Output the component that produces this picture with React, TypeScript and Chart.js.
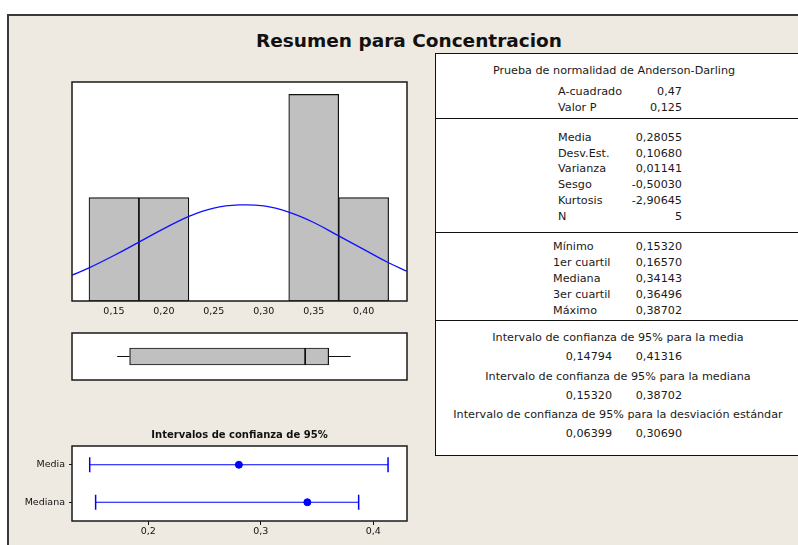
import React, { useEffect, useRef } from 'react';
import { Chart, registerables } from 'chart.js';

Chart.register(...registerables);

const FONT = '"DejaVu Sans", Verdana, sans-serif';

// ---- Histogram data ----
const binCenters = [0.15, 0.2, 0.35, 0.4];
const binCounts = [1, 1, 2, 1];
const curveX = [0.108, 0.125, 0.15, 0.175, 0.2, 0.225, 0.25, 0.275, 0.3, 0.325, 0.35, 0.375, 0.4, 0.425, 0.443];
const curveY = [0.25, 0.32, 0.44, 0.57, 0.70, 0.82, 0.90, 0.93, 0.92, 0.86, 0.76, 0.63, 0.50, 0.37, 0.29];
const histTickValues = [0.15, 0.2, 0.25, 0.3, 0.35, 0.4];
const histTickLabels = ['0,15', '0,20', '0,25', '0,30', '0,35', '0,40'];

// ---- Boxplot data: min, Q1, median, Q3, max ----
const boxValues = [0.1532, 0.1657, 0.34143, 0.36496, 0.38702];

// ---- Confidence intervals ----
const ciCategories = ['Media', 'Mediana'];
const ciLower = [0.14794, 0.1532];
const ciUpper = [0.41316, 0.38702];
const ciEstimate = [0.28055, 0.34143];
const ciTickValues = [0.2, 0.3, 0.4];
const ciTickLabels = ['0,2', '0,3', '0,4'];

// ---- Table texts ----
const adTitle = 'Prueba de normalidad de Anderson-Darling';
const adLabels = ['A-cuadrado', 'Valor P'];
const adValues = ['0,47', '0,125'];
const momentLabels = ['Media', 'Desv.Est.', 'Varianza', 'Sesgo', 'Kurtosis', 'N'];
const momentValues = ['0,28055', '0,10680', '0,01141', '-0,50030', '-2,90645', '5'];
const quantLabels = ['Mínimo', '1er cuartil', 'Mediana', '3er cuartil', 'Máximo'];
const quantValues = ['0,15320', '0,16570', '0,34143', '0,36496', '0,38702'];
const intervalTitles = [
  'Intervalo de confianza de 95% para la media',
  'Intervalo de confianza de 95% para la mediana',
  'Intervalo de confianza de 95% para la desviación estándar',
];
const intervalLower = ['0,14794', '0,15320', '0,06399'];
const intervalUpper = ['0,41316', '0,38702', '0,30690'];

const mainTitle = 'Resumen para Concentracion';
const ciTitle = 'Intervalos de confianza de 95%';

const panelPlugin = {
  id: 'panelFrame',
  beforeDraw(chart: any) {
    const a = chart.chartArea;
    const ctx = chart.ctx;
    ctx.save();
    ctx.fillStyle = '#ffffff';
    ctx.fillRect(a.left, a.top, a.right - a.left, a.bottom - a.top);
    ctx.restore();
  },
  afterDraw(chart: any) {
    const a = chart.chartArea;
    const ctx = chart.ctx;
    ctx.save();
    ctx.strokeStyle = '#1a1a1a';
    ctx.lineWidth = 1.5;
    ctx.strokeRect(a.left, a.top, a.right - a.left, a.bottom - a.top);
    ctx.restore();
  },
};

const HIST_MIN = 0.108;
const HIST_MAX = 0.4434;

export default function App() {
  const histRef = useRef<HTMLCanvasElement>(null);
  const boxRef = useRef<HTMLCanvasElement>(null);
  const ciRef = useRef<HTMLCanvasElement>(null);

  useEffect(() => {
    Chart.defaults.font.family = FONT;
    const charts: Chart[] = [];

    // Histogram
    charts.push(
      new Chart(histRef.current as HTMLCanvasElement, {
        type: 'bar',
        data: {
          datasets: [
            {
              type: 'line',
              data: curveX.map((x, i) => ({ x, y: curveY[i] })),
              borderColor: '#1010ff',
              borderWidth: 1.3,
              pointRadius: 0,
              tension: 0.4,
              order: 0,
            } as any,
            {
              type: 'bar',
              data: binCenters.map((x, i) => ({ x, y: binCounts[i] })),
              backgroundColor: '#c0c0c0',
              borderColor: '#111111',
              borderWidth: 1.2,
              borderSkipped: false,
              barPercentage: 1,
              categoryPercentage: 1,
              order: 1,
            } as any,
          ],
        },
        options: {
          animation: false,
          responsive: false,
          layout: { padding: { left: 10, right: 10, top: 10, bottom: 0 } },
          plugins: { legend: { display: false }, tooltip: { enabled: false }, title: { display: false } },
          scales: {
            x: {
              type: 'linear',
              min: HIST_MIN,
              max: HIST_MAX,
              offset: false,
              grid: { display: false, drawTicks: false },
              border: { display: false },
              afterBuildTicks: (s: any) => {
                s.ticks = histTickValues.map((v) => ({ value: v }));
              },
              afterFit: (s: any) => {
                s.height = 31;
              },
              ticks: {
                padding: 5,
                color: '#111',
                font: { size: 9.5, family: FONT },
                maxRotation: 0,
                autoSkip: false,
                callback: (v: any) => histTickLabels[histTickValues.findIndex((t) => Math.abs(t - v) < 1e-9)] ?? '',
              },
            },
            y: { type: 'linear', min: 0, max: 2.12, display: false },
          },
        },
        plugins: [panelPlugin],
      } as any)
    );

    // Boxplot
    charts.push(
      new Chart(boxRef.current as HTMLCanvasElement, {
        type: 'bar',
        data: {
          labels: ['box'],
          datasets: [
            {
              type: 'bar',
              data: [[boxValues[1], boxValues[2]]],
              backgroundColor: '#c0c0c0',
              borderColor: '#111',
              borderWidth: 1.2,
              borderSkipped: false,
              barThickness: 17,
              grouped: false,
            } as any,
            {
              type: 'bar',
              data: [[boxValues[2], boxValues[3]]],
              backgroundColor: '#c0c0c0',
              borderColor: '#111',
              borderWidth: 1.2,
              borderSkipped: false,
              barThickness: 17,
              grouped: false,
            } as any,
            {
              type: 'line',
              data: [
                { x: boxValues[0], y: 'box' },
                { x: boxValues[1], y: 'box' },
              ],
              borderColor: '#111',
              borderWidth: 1.2,
              pointRadius: 0,
            } as any,
            {
              type: 'line',
              data: [
                { x: boxValues[3], y: 'box' },
                { x: boxValues[4], y: 'box' },
              ],
              borderColor: '#111',
              borderWidth: 1.2,
              pointRadius: 0,
            } as any,
          ],
        },
        options: {
          animation: false,
          responsive: false,
          indexAxis: 'y',
          layout: { padding: 10 },
          plugins: { legend: { display: false }, tooltip: { enabled: false } },
          scales: {
            x: { type: 'linear', min: HIST_MIN, max: HIST_MAX, display: false, offset: false },
            y: { type: 'category', display: false, offset: true },
          },
        },
        plugins: [panelPlugin],
      } as any)
    );

    // Confidence intervals
    const ciDatasets: any[] = [];
    ciCategories.forEach((c, i) => {
      ciDatasets.push({
        type: 'line',
        data: [{ x: ciEstimate[i], y: c }],
        showLine: false,
        pointStyle: 'circle',
        pointRadius: 3.5,
        pointBackgroundColor: '#0000ff',
        pointBorderColor: '#0000ff',
        pointBorderWidth: 1,
        order: 0,
      });
    });
    ciCategories.forEach((c, i) => {
      ciDatasets.push({
        type: 'line',
        data: [
          { x: ciLower[i], y: c },
          { x: ciUpper[i], y: c },
        ],
        borderColor: '#0000ff',
        borderWidth: 1.2,
        pointStyle: 'line',
        pointRadius: 7.5,
        pointRotation: 90,
        pointBorderColor: '#0000ff',
        pointBorderWidth: 1.5,
        pointBackgroundColor: '#0000ff',
        order: 1,
      });
    });

    charts.push(
      new Chart(ciRef.current as HTMLCanvasElement, {
        type: 'line',
        data: { datasets: ciDatasets },
        options: {
          animation: false,
          responsive: false,
          layout: { padding: { left: 0, right: 10, top: 0, bottom: 0 } },
          plugins: {
            legend: { display: false },
            tooltip: { enabled: false },
            title: {
              display: true,
              text: ciTitle,
              fullSize: false,
              color: '#111',
              font: { size: 10, weight: 'bold', family: FONT },
              padding: { top: 9, bottom: 5 },
            },
          },
          scales: {
            x: {
              type: 'linear',
              min: 0.1322,
              max: 0.43,
              grid: { display: true, drawOnChartArea: false, drawTicks: true, tickLength: 4, color: '#111' },
              border: { display: false },
              afterBuildTicks: (s: any) => {
                s.ticks = ciTickValues.map((v) => ({ value: v }));
              },
              afterFit: (s: any) => {
                s.height = 24;
              },
              ticks: {
                padding: 1,
                color: '#111',
                font: { size: 9.5, family: FONT },
                maxRotation: 0,
                autoSkip: false,
                callback: (v: any) => ciTickLabels[ciTickValues.findIndex((t) => Math.abs(t - v) < 1e-9)] ?? '',
              },
            },
            y: {
              type: 'category',
              labels: ciCategories,
              offset: true,
              grid: { display: true, drawOnChartArea: false, drawTicks: true, tickLength: 3, color: '#111' },
              border: { display: false },
              afterFit: (s: any) => {
                s.width = 60;
              },
              ticks: {
                padding: 4,
                color: '#111',
                font: { size: 9.5, family: FONT },
              },
            },
          },
        },
        plugins: [panelPlugin],
      } as any)
    );

    return () => {
      charts.forEach((c) => c.destroy());
    };
  }, []);

  const tableFont = { fontFamily: FONT, fontSize: '11.2px', color: '#1a1a1a', whiteSpace: 'nowrap' as const, lineHeight: '14px' };

  const txt = (key: string, text: string, x: number, y: number, align: 'left' | 'right' | 'center') => {
    const tx = align === 'left' ? '0' : align === 'right' ? '-100%' : '-50%';
    return (
      <div
        key={key}
        style={{ position: 'absolute', left: x, top: y, transform: `translate(${tx}, -50%)`, ...tableFont }}
      >
        {text}
      </div>
    );
  };

  const items: React.ReactNode[] = [];
  items.push(txt('adt', adTitle, 614, 71, 'center'));
  adLabels.forEach((l, i) => {
    const y = 92 + i * 16.3;
    items.push(txt('adl' + i, l, 558, y, 'left'));
    items.push(txt('adv' + i, adValues[i], 682, y, 'right'));
  });
  momentLabels.forEach((l, i) => {
    const y = 137.7 + i * 15.8;
    items.push(txt('ml' + i, l, 558, y, 'left'));
    items.push(txt('mv' + i, momentValues[i], 682, y, 'right'));
  });
  quantLabels.forEach((l, i) => {
    const y = 246.5 + i * 16;
    items.push(txt('ql' + i, l, 553, y, 'left'));
    items.push(txt('qv' + i, quantValues[i], 682, y, 'right'));
  });
  intervalTitles.forEach((t, i) => {
    const y = 338.3 + i * 38.2;
    items.push(txt('it' + i, t, 618, y, 'center'));
    items.push(txt('il' + i, intervalLower[i], 612, y + 19, 'right'));
    items.push(txt('iu' + i, intervalUpper[i], 682, y + 19, 'right'));
  });

  const hline = (key: string, y: number) => (
    <div key={key} style={{ position: 'absolute', left: 436, top: y, width: 400, height: 0, borderTop: '1.5px solid #111' }} />
  );

  return (
    <div
      style={{
        position: 'fixed',
        left: 0,
        top: 0,
        width: 798,
        height: 545,
        overflow: 'hidden',
        background: '#ffffff',
      }}
    >
      <div
        style={{
          position: 'absolute',
          left: 7,
          top: 14,
          width: 900,
          height: 700,
          background: '#eeeae1',
          borderLeft: '2px solid #3a3a3a',
          borderTop: '2px solid #3a3a3a',
        }}
      />
      <div
        style={{
          position: 'absolute',
          left: 409,
          top: 40,
          transform: 'translate(-50%, -50%)',
          fontFamily: FONT,
          fontWeight: 'bold',
          fontSize: '18.5px',
          color: '#111',
          whiteSpace: 'nowrap',
        }}
      >
        {mainTitle}
      </div>
      <div
        style={{
          position: 'absolute',
          left: 435,
          top: 53,
          width: 400,
          height: 401,
          background: '#ffffff',
          border: '1.5px solid #111',
        }}
      />
      {hline('h1', 117.5)}
      {hline('h2', 232)}
      {hline('h3', 319.5)}
      {items}
      <canvas
        ref={histRef}
        width={355}
        height={260}
        style={{ position: 'absolute', left: 62, top: 72, width: 355, height: 260 }}
      />
      <canvas
        ref={boxRef}
        width={355}
        height={67}
        style={{ position: 'absolute', left: 62, top: 323, width: 355, height: 67 }}
      />
      <canvas
        ref={ciRef}
        width={405}
        height={125}
        style={{ position: 'absolute', left: 12, top: 420, width: 405, height: 125 }}
      />
    </div>
  );
}
